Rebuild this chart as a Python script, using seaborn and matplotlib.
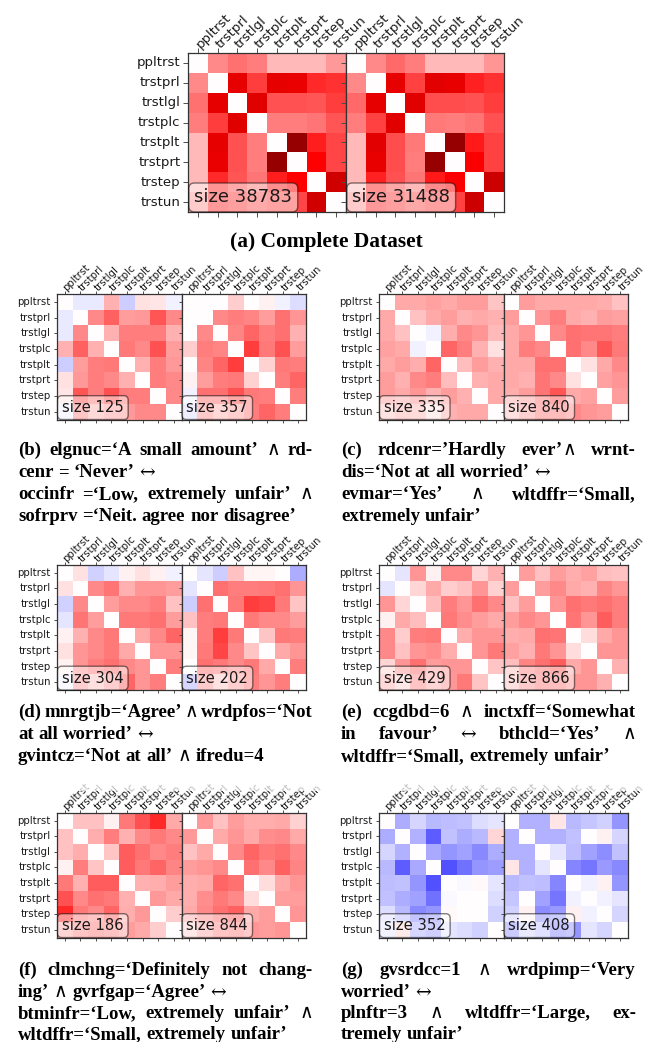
import re
import numpy as np
import matplotlib
matplotlib.use("Agg")
import matplotlib.pyplot as plt
from matplotlib.patches import Rectangle
import seaborn as sns

# ---------------------------------------------------------------- data
labels = ["ppltrst", "trstprl", "trstlgl", "trstplc",
          "trstplt", "trstprt", "trstep", "trstun"]

# upper triangles (row-major, above the diagonal) of each correlation matrix
a_left = [0.23, 0.28, 0.25, 0.14, 0.14, 0.14, 0.20,
          0.60, 0.38, 0.60, 0.58, 0.42, 0.40,
          0.62, 0.34, 0.34, 0.33, 0.38,
          0.25, 0.25, 0.27, 0.33,
          0.91, 0.44, 0.36,
          0.50, 0.36,
          0.68]
a_right = [0.23, 0.29, 0.25, 0.14, 0.14, 0.14, 0.21,
           0.60, 0.37, 0.61, 0.59, 0.43, 0.40,
           0.62, 0.35, 0.35, 0.34, 0.38,
           0.26, 0.25, 0.27, 0.34,
           0.91, 0.45, 0.37,
           0.52, 0.37,
           0.70]
b_left = [-0.04, -0.04, 0.15, -0.10, 0.06, 0.05, -0.03,
          0.23, 0.31, 0.19, 0.20, 0.33, 0.23,
          0.15, 0.25, 0.25, 0.25, 0.15,
          0.26, 0.23, 0.34, 0.19,
          0.15, 0.25, 0.20,
          0.25, 0.23,
          0.23]
b_right = [0.00, 0.00, 0.10, 0.00, 0.03, -0.03, -0.07,
           0.23, 0.25, 0.24, 0.19, 0.28, 0.21,
           0.24, 0.30, 0.25, 0.28, 0.15,
           0.38, 0.26, 0.34, 0.19,
           0.09, 0.26, 0.25,
           0.25, 0.30,
           0.25]
c_left = [0.17, 0.17, 0.18, 0.17, 0.19, 0.19, 0.11,
          0.12, 0.17, 0.19, 0.15, 0.17, 0.15,
          -0.03, 0.16, 0.23, 0.21, 0.14,
          0.30, 0.25, 0.15, 0.06,
          0.13, 0.19, 0.15,
          0.15, 0.17,
          0.17]
c_right = [0.19, 0.17, 0.17, 0.17, 0.17, 0.16, 0.12,
           0.21, 0.25, 0.17, 0.15, 0.19, 0.18,
           0.23, 0.28, 0.27, 0.27, 0.25,
           0.28, 0.23, 0.33, 0.26,
           0.06, 0.17, 0.23,
           0.18, 0.21,
           0.19]
d_left = [0.06, -0.09, -0.05, 0.03, 0.06, 0.03, -0.03,
          0.23, 0.27, 0.15, 0.21, 0.21, 0.19,
          0.19, 0.23, 0.23, 0.25, 0.12,
          0.26, 0.26, 0.28, 0.19,
          0.17, 0.23, 0.30,
          0.21, 0.21,
          0.25]
d_right = [-0.05, -0.10, 0.12, 0.02, 0.02, 0.00, -0.16,
           0.28, 0.25, 0.25, 0.26, 0.28, 0.21,
           0.26, 0.38, 0.36, 0.26, 0.11,
           0.26, 0.23, 0.23, 0.19,
           0.11, 0.26, 0.25,
           0.17, 0.21,
           0.25]
e_left = [-0.05, 0.21, 0.03, 0.23, 0.23, 0.08, 0.15,
          0.08, 0.17, 0.10, 0.12, 0.21, 0.09,
          0.13, 0.25, 0.21, 0.28, 0.23,
          0.26, 0.22, 0.19, 0.17,
          0.16, 0.21, 0.21,
          0.21, 0.26,
          0.11]
e_right = [0.19, 0.12, 0.19, 0.16, 0.18, 0.13, 0.12,
           0.19, 0.23, 0.17, 0.15, 0.24, 0.21,
           0.21, 0.28, 0.26, 0.28, 0.25,
           0.27, 0.21, 0.32, 0.25,
           0.07, 0.17, 0.21,
           0.21, 0.21,
           0.15]
f_left = [0.12, 0.12, 0.03, 0.26, 0.34, 0.42, 0.17,
          0.16, 0.25, 0.15, 0.23, 0.26, 0.23,
          0.11, 0.32, 0.28, 0.23, 0.25,
          0.32, 0.26, 0.30, 0.24,
          0.15, 0.16, 0.19,
          0.20, 0.17,
          0.10]
f_right = [0.20, 0.12, 0.19, 0.16, 0.16, 0.17, 0.09,
           0.17, 0.21, 0.17, 0.22, 0.23, 0.17,
           0.23, 0.30, 0.26, 0.28, 0.23,
           0.28, 0.23, 0.31, 0.24,
           0.07, 0.17, 0.21,
           0.19, 0.19,
           0.21]
g_left = [-0.16, -0.08, -0.14, -0.13, -0.12, -0.07, -0.05,
          -0.15, -0.32, -0.12, -0.16, -0.14, 0.08,
          -0.17, -0.21, -0.18, -0.23, -0.16,
          -0.34, -0.28, -0.21, -0.19,
          -0.01, 0.01, -0.05,
          0.00, -0.07,
          -0.09]
g_right = [-0.15, -0.15, 0.05, -0.14, -0.11, -0.09, -0.21,
           -0.15, -0.15, -0.12, 0.00, 0.03, -0.08,
           -0.05, -0.13, -0.18, -0.22, -0.12,
           -0.24, -0.27, -0.20, -0.23,
           -0.03, 0.03, -0.21,
           -0.03, -0.05,
           -0.08]

sizes_a = [38783, 31488]
sizes_b = [125, 357]
sizes_c = [335, 840]
sizes_d = [304, 202]
sizes_e = [429, 866]
sizes_f = [186, 844]
sizes_g = [352, 408]

caption_a = "(a) Complete Dataset"
caption_b = [("(b) elgnuc=\u2018A small amount\u2019 \u2227 rd-", True),
             ("cenr = \u2018Never\u2019 \u2194", False),
             ("occinfr =\u2018Low, extremely unfair\u2019 \u2227", True),
             ("sofrprv =\u2018Neit. agree nor disagree\u2019", False)]
caption_c = [("(c) rdcenr=\u2019Hardly ever\u2019\u2227 wrnt-", True),
             ("dis=\u2018Not at all worried\u2019 \u2194", False),
             ("evmar=\u2018Yes\u2019 \u2227 wltdffr=\u2018Small,", True),
             ("extremely unfair\u2019", False)]
caption_d = [("(d) mnrgtjb=\u2018Agree\u2019 \u2227 wrdpfos=\u2018Not", True),
             ("at all worried\u2019 \u2194", False),
             ("gvintcz=\u2018Not at all\u2019 \u2227 ifredu=4", False)]
caption_e = [("(e) ccgdbd=6 \u2227 inctxff=\u2018Somewhat", True),
             ("in favour\u2019 \u2194 bthcld=\u2018Yes\u2019 \u2227", True),
             ("wltdffr=\u2018Small, extremely unfair\u2019", False)]
caption_f = [("(f) clmchng=\u2018Definitely not chang-", True),
             ("ing\u2019 \u2227 gvrfgap=\u2018Agree\u2019 \u2194", False),
             ("btminfr=\u2018Low, extremely unfair\u2019 \u2227", True),
             ("wltdffr=\u2018Small, extremely unfair\u2019", False)]
caption_g = [("(g) gvsrdcc=1 \u2227 wrdpimp=\u2018Very", True),
             ("worried\u2019 \u2194", False),
             ("plnftr=3 \u2227 wltdffr=\u2018Large, ex-", True),
             ("tremely unfair\u2019", False)]

# ---------------------------------------------------------------- layout
W, H = 652, 1042
fig = plt.figure(figsize=(W / 100, H / 100), dpi=100)
fig.patch.set_facecolor("white")
CAP_FAMILY = ["Liberation Serif", "DejaVu Serif"]
SYM_FAMILY = ["DejaVu Serif"]


def rect(x, y_top, w, h):
    return [x / W, 1 - (y_top + h) / H, w / W, h / H]


def full_matrix(upper):
    m = np.zeros((8, 8))
    m[np.triu_indices(8, 1)] = upper
    return m + m.T


def heatmap_pair(x0, y_top, w, h, uppers, sizes, tick_fs, size_fs, ticklen):
    for k, (upper, n) in enumerate(zip(uppers, sizes)):
        ax = fig.add_axes(rect(x0 + k * w, y_top, w, h))
        sns.heatmap(full_matrix(upper), ax=ax, cmap="seismic", vmin=-1, vmax=1,
                    cbar=False, xticklabels=labels, yticklabels=labels)
        for sp in ax.spines.values():
            sp.set_visible(True)
            sp.set_color("0.2")
            sp.set_linewidth(0.9)
        ax.tick_params(axis="x", top=True, bottom=True, labeltop=True,
                       labelbottom=False, length=ticklen, width=0.7,
                       color="0.3", labelsize=tick_fs, pad=1)
        ax.tick_params(axis="y", left=True, length=ticklen, width=0.7,
                       color="0.3", labelsize=tick_fs, pad=2,
                       labelleft=(k == 0))
        plt.setp(ax.get_xticklabels(), rotation=45, ha="left", va="center",
                 rotation_mode="anchor", color="0.1")
        plt.setp(ax.get_yticklabels(), rotation=0, color="0.1")
        ax.text(0.04, 0.035, f"size {n}", transform=ax.transAxes,
                fontsize=size_fs, ha="left", va="bottom", color="0.1",
                bbox=dict(boxstyle="round", facecolor="white", alpha=0.5))


heatmap_pair(188, 53, 158, 159, [a_left, a_right], sizes_a, 9.5, 13, 3.5)
heatmap_pair(57, 294, 124.5, 125.5, [b_left, b_right], sizes_b, 7.3, 10.6, 2.5)
heatmap_pair(379, 294, 124.5, 125.5, [c_left, c_right], sizes_c, 7.3, 10.6, 2.5)
heatmap_pair(57, 565, 124.5, 125, [d_left, d_right], sizes_d, 7.3, 10.6, 2.5)
heatmap_pair(379, 565, 124.5, 125, [e_left, e_right], sizes_e, 7.3, 10.6, 2.5)
heatmap_pair(57, 813, 124.5, 124.5, [f_left, f_right], sizes_f, 7.3, 10.6, 2.5)
heatmap_pair(379, 813, 124.5, 124.5, [g_left, g_right], sizes_g, 7.3, 10.6, 2.5)

# the bottom row's column labels fade out where they run into the row above
fig.patches.append(Rectangle((0, 1 - 791 / H), 1, 24 / H,
                             transform=fig.transFigure, facecolor="white",
                             alpha=0.72, edgecolor="none", zorder=5))

# ---------------------------------------------------------------- captions
renderer = fig.canvas.get_renderer()
CAP_FS = 13.5
SYMBOLS = "\u2227\u2194"


def pieces(word):
    """Split a word into (text, is_symbol) runs."""
    return [(p, p in SYMBOLS) for p in re.split(f"([{SYMBOLS}])", word) if p]


def _style(is_sym):
    if is_sym:
        return dict(family=SYM_FAMILY, fontweight="normal")
    return dict(family=CAP_FAMILY, fontweight="bold")


def piece_width(s, is_sym, fs):
    t = fig.text(0, 0, s, fontsize=fs, **_style(is_sym))
    w = t.get_window_extent(renderer).width
    t.remove()
    return w


def word_width(word, fs):
    return sum(piece_width(p, s, fs) for p, s in pieces(word))


def put_word(x, yb, word, fs):
    for p, is_sym in pieces(word):
        fig.text(x / W, 1 - yb / H, p, fontsize=fs, va="baseline",
                 ha="left", color="black", **_style(is_sym))
        x += piece_width(p, is_sym, fs)


def caption(lines, x0, x1, baselines, fs=CAP_FS):
    space = word_width("a a", fs) - word_width("aa", fs)
    for (s, justify), yb in zip(lines, baselines):
        words = s.split(" ")
        widths = [word_width(wd, fs) for wd in words]
        gap = (x1 - x0 - sum(widths)) / (len(words) - 1) if justify else space
        x = x0
        for wd, ww in zip(words, widths):
            put_word(x, yb, wd, fs)
            x += ww + gap


fig.text(326.5 / W, 1 - 247 / H, caption_a, fontsize=15.4, family=CAP_FAMILY,
         fontweight="bold", ha="center", va="baseline")
row1 = [455, 477, 499, 521]
row2 = [717, 739, 761]
row3 = [975, 997, 1018, 1039]
caption(caption_b, 18, 313, row1)
caption(caption_c, 341, 636, row1)
caption(caption_d, 18, 313, row2)
caption(caption_e, 341, 636, row2)
caption(caption_f, 18, 313, row3)
caption(caption_g, 341, 636, row3)

fig.savefig("out.png", dpi=100, facecolor="white")
